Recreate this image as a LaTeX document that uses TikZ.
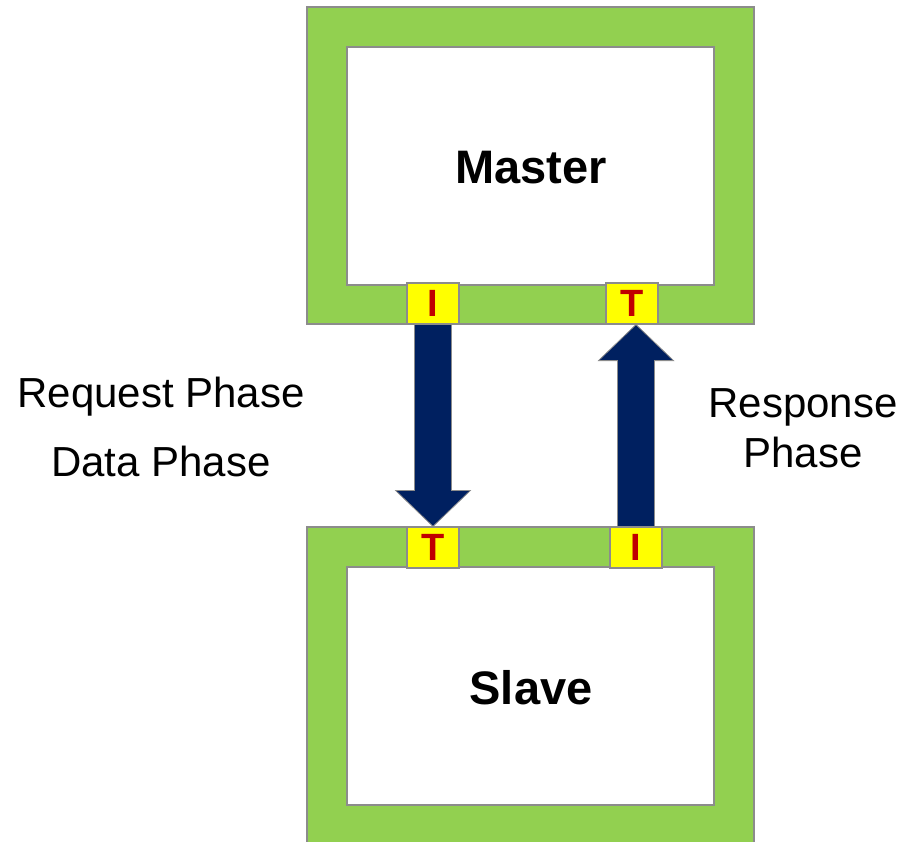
\documentclass[tikz,border=0pt]{standalone}
\usepackage{fontspec}
\setmainfont{Liberation Sans}
\usetikzlibrary{calc}
\definecolor{frame}{HTML}{92D050}
\definecolor{port}{HTML}{FFFF00}
\definecolor{portText}{HTML}{C00000}
\definecolor{navy}{HTML}{002060}
\definecolor{edge}{HTML}{8C8C8C}
\tikzset{
  outerbox/.style={draw=edge, line width=1.5pt, fill=frame},
  innerbox/.style={draw=edge, line width=1.5pt, fill=white},
  portbox/.style={draw=edge, line width=1.2pt, fill=port, minimum width=52pt, minimum height=41pt, inner sep=0pt, text=portText, font=\fontsize{38}{42}\selectfont\bfseries},
  bigarrow/.style={fill=navy, draw=edge, line width=0.8pt},
  title/.style={font=\fontsize{47}{52}\selectfont\bfseries, inner sep=0pt},
  phase/.style={font=\fontsize{42}{50}\selectfont, inner sep=0pt, align=center}
}
\begin{document}
\begin{tikzpicture}[x=1pt,y=-1pt]
\useasboundingbox (0,0) rectangle (913,842);
% master
\path[outerbox] (307,7) rectangle (754,324);
\path[innerbox] (347,47) rectangle (714,285);
\node[title] (master) at (531,168) {Master};
\node[portbox] (mI) at (433,303.5) {I};
\node[portbox] (mT) at (632,303.5) {T};
% slave
\path[outerbox] (307,527) rectangle (754,850);
\path[innerbox] (347,567) rectangle (714,805);
\node[title] (slave) at (531,688) {Slave};
\node[portbox] (sT) at (433,547.5) {T};
\node[portbox] (sI) at (636,547.5) {I};
% request arrow (down)
\draw[bigarrow] ($(mI.south)+(-18.5,0)$) -- ($(sT.north)+(-18.5,-36)$) -- ($(sT.north)+(-37.5,-36)$) -- (sT.north) -- ($(sT.north)+(37.5,-36)$) -- ($(sT.north)+(18.5,-36)$) -- ($(mI.south)+(18.5,0)$) -- cycle;
% response arrow (up)
\coordinate (rtip) at (sI.north |- mT.south);
\draw[bigarrow] ($(sI.north)+(-18.5,0)$) -- ($(rtip)+(-18.5,36)$) -- ($(rtip)+(-37.5,36)$) -- (rtip) -- ($(rtip)+(37.5,36)$) -- ($(rtip)+(18.5,36)$) -- ($(sI.north)+(18.5,0)$) -- cycle;
% labels
\node[phase] (req) at (161,397) {Request Phase};
\node[phase] (dat) at (161,461) {Data Phase};
\node[phase, text width=300pt] (resp) at (803,428) {Response\\[-0.1pt]Phase};
\end{tikzpicture}
\end{document}
